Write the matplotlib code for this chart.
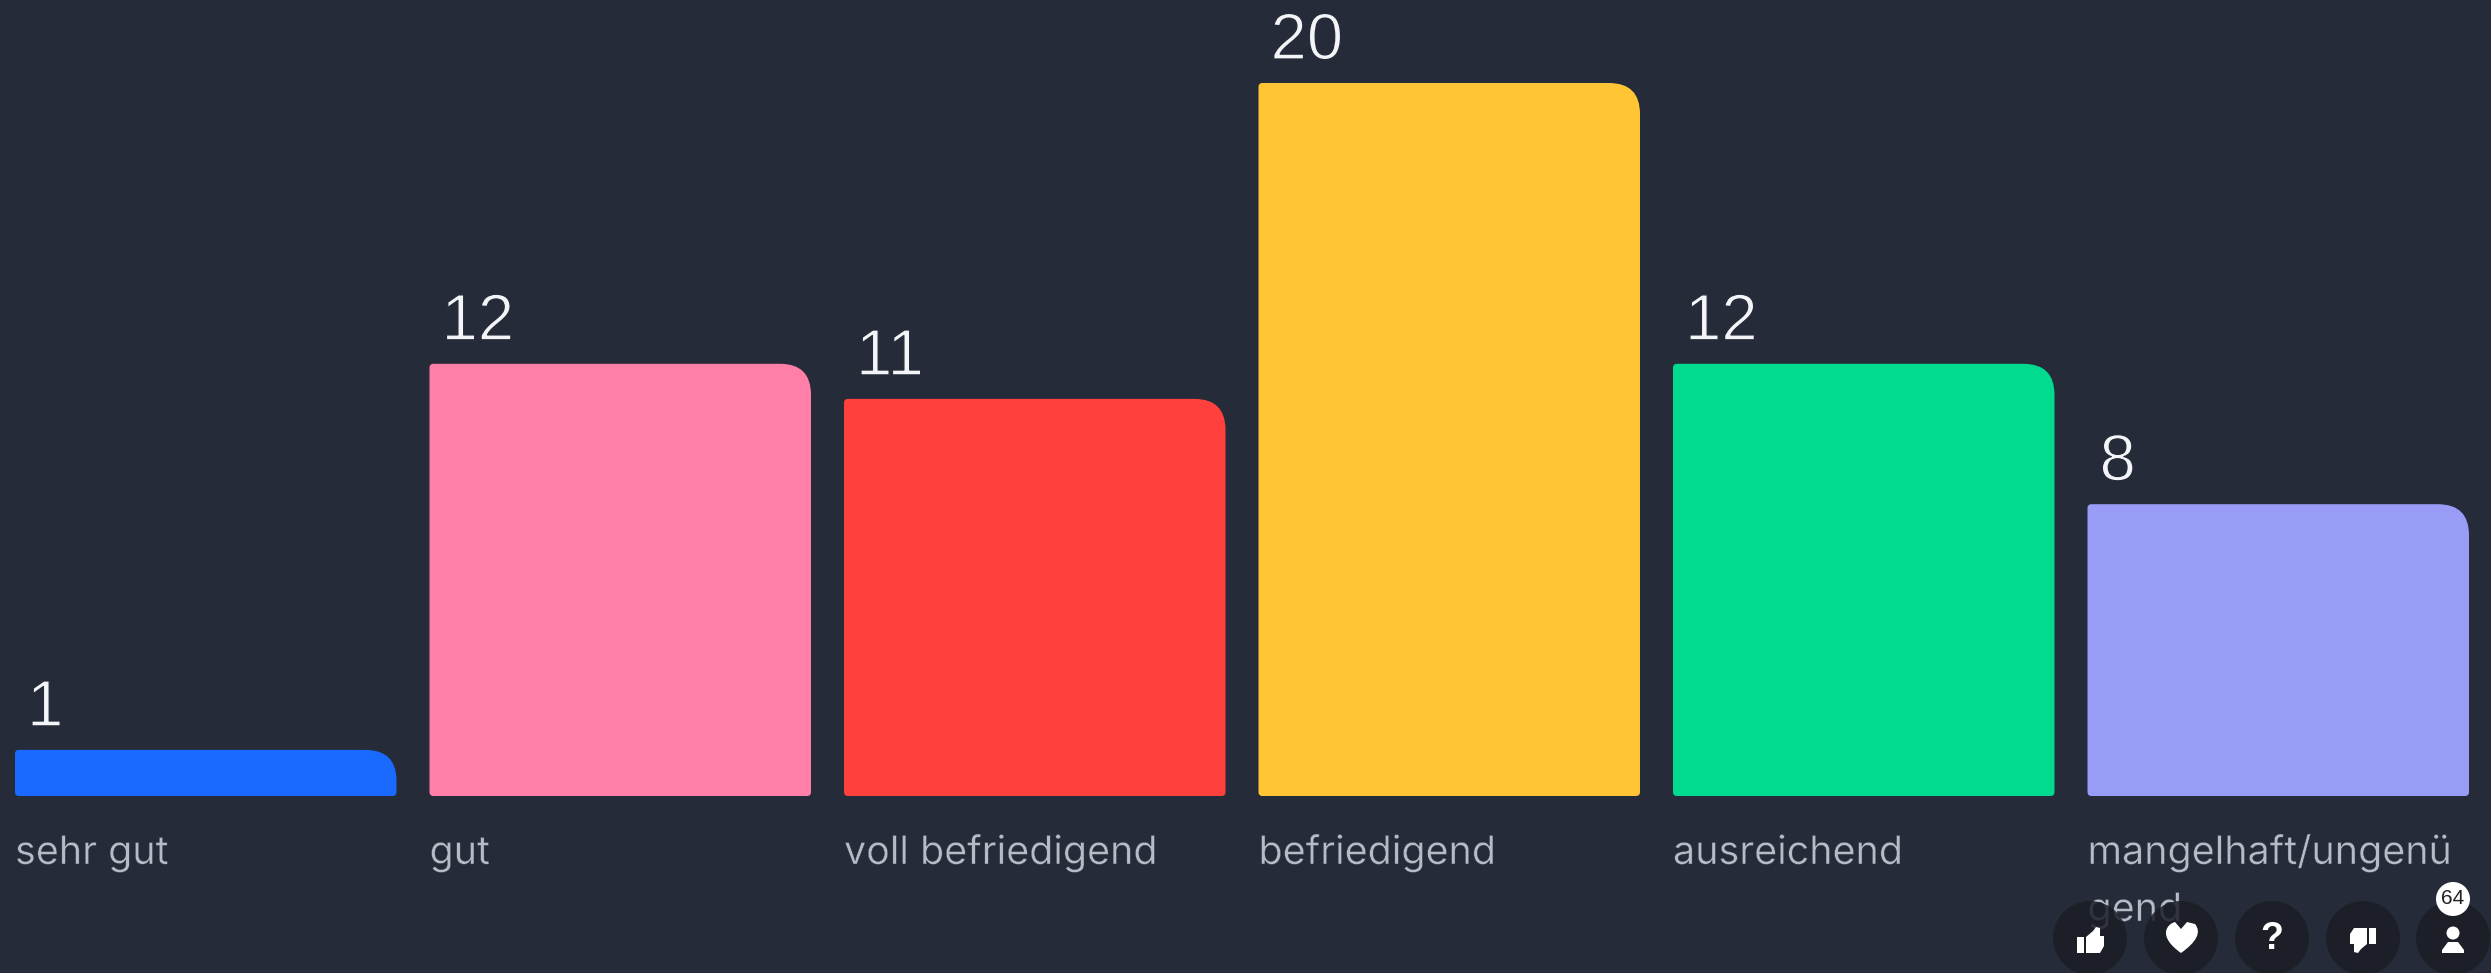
import matplotlib
matplotlib.use("Agg")
import matplotlib.pyplot as plt
import matplotlib.patheffects as pe
from matplotlib.patches import Circle, PathPatch, Polygon, Rectangle
from matplotlib.path import Path

categories = ["sehr gut", "gut", "voll befriedigend", "befriedigend", "ausreichend", "mangelhaft/ungenü"]
overflow_label = "gend"
values = [1, 12, 11, 20, 12, 8]
colors = ["#1a6aff", "#ff7fa8", "#ff403d", "#ffc535", "#00db8f", "#989cf6"]
respondents = "64"

W, H = 2491, 973
BG = "#252b38"
PITCH = 414.5
BAR_W = 381.5
BASE_Y = 796
UNIT = 35.1
FLOOR = -11 / UNIT  # the bars start a little under zero


def rounded_bar(ax, i, value, color):
    # one big corner top right, tiny ones elsewhere
    x0 = i - 0.5 * BAR_W / PITCH
    x1 = i + 0.5 * BAR_W / PITCH
    rx, ry = 31 / PITCH, 31 / UNIT
    sx, sy = 4 / PITCH, 4 / UNIT
    verts = [
        (x0 + sx, FLOOR), (x1 - sx, FLOOR), (x1, FLOOR), (x1, FLOOR + sy),
        (x1, value - ry), (x1, value), (x1 - rx, value),
        (x0 + sx, value), (x0, value), (x0, value - sy),
        (x0, FLOOR + sy), (x0, FLOOR), (x0 + sx, FLOOR), (x0 + sx, FLOOR),
    ]
    codes = [
        Path.MOVETO, Path.LINETO, Path.CURVE3, Path.CURVE3,
        Path.LINETO, Path.CURVE3, Path.CURVE3,
        Path.LINETO, Path.CURVE3, Path.CURVE3,
        Path.LINETO, Path.CURVE3, Path.CURVE3, Path.CLOSEPOLY,
    ]
    ax.add_patch(PathPatch(Path(verts, codes), facecolor=color, edgecolor="none"))
    return x0


def main():
    fig = plt.figure(figsize=(W / 100, H / 100), dpi=100, facecolor=BG)
    ax = fig.add_axes([0, 0, 1, 1])
    ax.set_facecolor(BG)
    left = 15 + BAR_W / 2
    ax.set_xlim(-left / PITCH, (W - left) / PITCH)
    ax.set_ylim(FLOOR - (H - BASE_Y) / UNIT, FLOOR + BASE_Y / UNIT)
    ax.axis("off")

    thin = [pe.Stroke(linewidth=0.9, foreground=BG)]
    thin_label = [pe.Stroke(linewidth=0.3, foreground=BG)]
    for i, (name, v, c) in enumerate(zip(categories, values, colors)):
        x0 = rounded_bar(ax, i, v, c)
        ax.annotate(str(v), (x0, v), xytext=(12, 24), textcoords="offset pixels",
                    color="#f4f5f8", fontsize=47, family="Liberation Sans", va="baseline", ha="left",
                    path_effects=thin)
        ax.annotate(name, (x0, FLOOR), xytext=(0, -68), textcoords="offset pixels",
                    color="#b7bbc7", fontsize=28.4, family="Inter", va="baseline", ha="left",
                    path_effects=thin_label)
    ax.annotate(overflow_label, (5 - 0.5 * BAR_W / PITCH, FLOOR), xytext=(0, -125), textcoords="offset pixels",
                color="#b7bbc7", fontsize=28.4, family="Inter", va="baseline", ha="left",
                path_effects=thin_label)

    # buttons in the corner, in pixel coordinates
    ui = fig.add_axes([0, 0, 1, 1])
    ui.set_xlim(0, W)
    ui.set_ylim(H, 0)
    ui.axis("off")
    ui.patch.set_alpha(0)
    cy = 938
    for cx in [2090, 2181, 2272, 2363, 2453]:
        ui.add_patch(Circle((cx, cy), 37, facecolor="#1b1e25", edgecolor="none", alpha=0.86))

    # thumb up
    ui.add_patch(Rectangle((2077, 937), 7, 16, facecolor="white", edgecolor="none"))
    ui.add_patch(Polygon([(2086, 937), (2093, 931), (2096, 927), (2100, 928), (2100, 936), (2104, 936),
                          (2104, 946), (2100, 953), (2086, 953)], facecolor="white", edgecolor="none"))
    # heart
    hx, hy = 2181, 938
    heart = Path(
        [(hx, hy + 15), (hx - 24, hy - 2), (hx - 14, hy - 14), (hx - 6, hy - 16), (hx, hy - 9),
         (hx + 6, hy - 16), (hx + 14, hy - 14), (hx + 24, hy - 2), (hx, hy + 15), (hx, hy + 15)],
        [Path.MOVETO, Path.CURVE4, Path.CURVE4, Path.LINETO, Path.LINETO,
         Path.LINETO, Path.LINETO, Path.CURVE3, Path.CURVE3, Path.CLOSEPOLY])
    ui.add_patch(PathPatch(heart, facecolor="white", edgecolor="none"))
    # question mark
    ui.text(2272, 939, "?", color="white", fontsize=27, fontweight="bold", family="Liberation Sans",
            ha="center", va="center")
    # thumb down
    ui.add_patch(Rectangle((2369, 928), 7, 16, facecolor="white", edgecolor="none"))
    ui.add_patch(Polygon([(2367, 944), (2361, 949), (2358, 953), (2354, 952), (2354, 944), (2350, 944),
                          (2350, 934), (2354, 928), (2367, 928)], facecolor="white", edgecolor="none"))
    # person
    ui.add_patch(Circle((2453, 933), 6.5, facecolor="white", edgecolor="none"))
    ui.add_patch(Polygon([(2442, 953), (2464, 953), (2464, 950), (2458, 942), (2448, 942), (2442, 950)],
                         facecolor="white", edgecolor="none"))
    # badge
    ui.add_patch(Circle((2453, 899), 17, facecolor="white", edgecolor="none"))
    ui.text(2453, 899, respondents, color="#222222", fontsize=15, family="Liberation Sans",
            ha="center", va="center")

    fig.savefig("out.png", dpi=100, facecolor=BG)


if __name__ == "__main__":
    main()
